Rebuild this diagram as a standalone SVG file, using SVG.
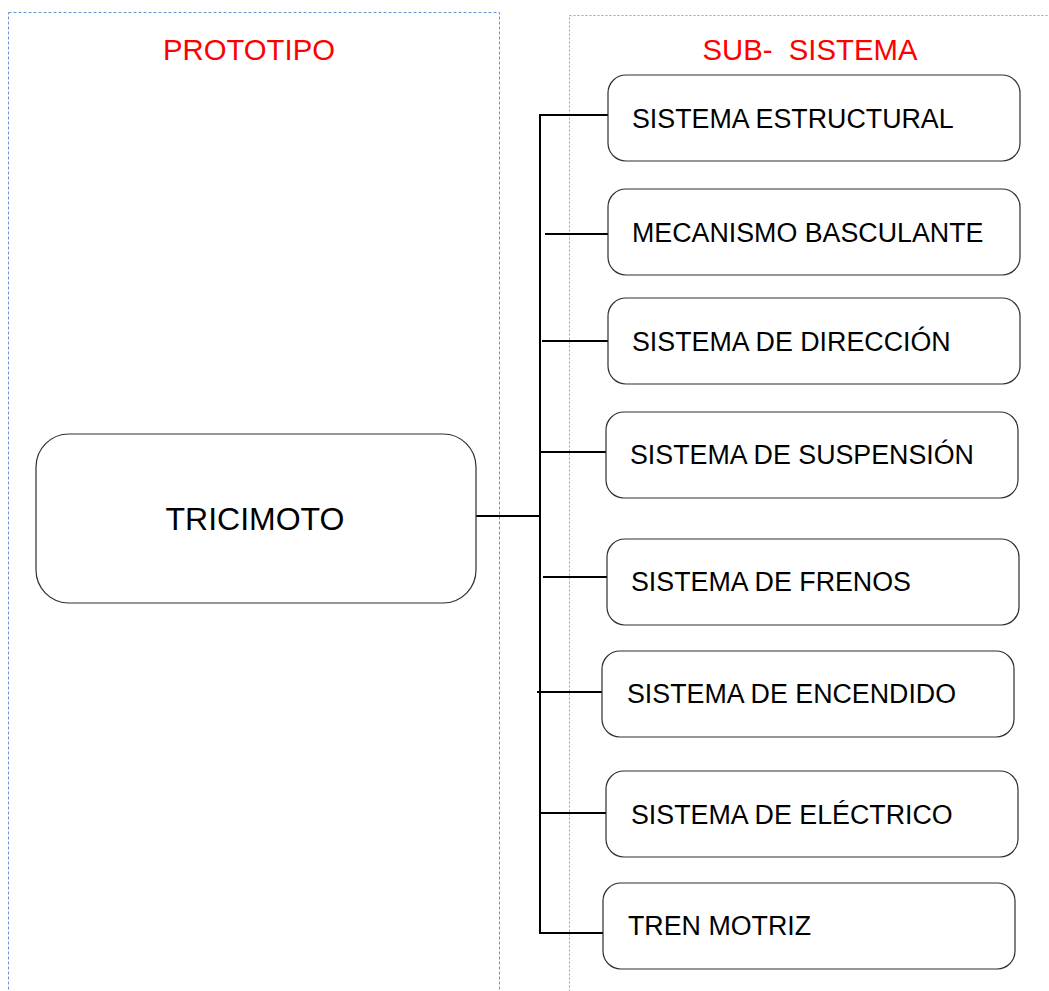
<svg xmlns="http://www.w3.org/2000/svg" width="1049" height="991" viewBox="0 0 1049 991">
<style>
.frame{fill:none;stroke:#6a96d0;stroke-width:1;stroke-dasharray:3 2}
.frame2{fill:none;stroke:#8aa6c8;stroke-width:1;stroke-dasharray:2 2}
.title{font-family:"Liberation Sans",Arial,sans-serif;font-size:29.3px;fill:#ff0000;text-anchor:middle}
.box{fill:#ffffff;stroke:#2e2e2e;stroke-width:1.2}
.lbl{font-family:"Liberation Sans",Arial,sans-serif;font-size:26.8px;fill:#000000}
.main{font-family:"Liberation Sans",Arial,sans-serif;font-size:32px;fill:#000000;text-anchor:middle}
.wire{fill:none;stroke:#000000;stroke-width:2}
</style>
<rect width="1049" height="991" fill="#ffffff"/>
<g id="frames">
<rect class="frame" x="8.5" y="12.5" width="491" height="1000"/>
<rect class="frame2" x="569.5" y="15.5" width="500" height="1000"/>
<text class="title" x="249" y="59.5">PROTOTIPO</text>
<text class="title" x="810" y="59.5" xml:space="preserve">SUB-  SISTEMA</text>
</g>
<g id="connectors">
<line class="wire" x1="540" y1="114" x2="540" y2="934"/>
<line class="wire" x1="476" y1="516" x2="540" y2="516"/>
<line class="wire" x1="541" y1="115" x2="608" y2="115"/>
<line class="wire" x1="545" y1="234" x2="608" y2="234"/>
<line class="wire" x1="542" y1="341" x2="608" y2="341"/>
<line class="wire" x1="540" y1="452" x2="606" y2="452"/>
<line class="wire" x1="543" y1="577" x2="607" y2="577"/>
<line class="wire" x1="537" y1="692" x2="602" y2="692"/>
<line class="wire" x1="541" y1="813" x2="606" y2="813"/>
<line class="wire" x1="539" y1="933" x2="603" y2="933"/>
</g>
<g id="tricimoto">
<rect class="box" x="36" y="434" width="440" height="169" rx="33" ry="33"/>
<text class="main" x="255" y="530">TRICIMOTO</text>
</g>
<g id="n1">
<rect class="box" x="608" y="75" width="412" height="86" rx="18" ry="18"/>
<text class="lbl" x="632" y="128">SISTEMA ESTRUCTURAL</text>
</g>
<g id="n2">
<rect class="box" x="608" y="189" width="412" height="86" rx="18" ry="18"/>
<text class="lbl" x="632" y="242">MECANISMO BASCULANTE</text>
</g>
<g id="n3">
<rect class="box" x="608" y="298" width="412" height="86" rx="18" ry="18"/>
<text class="lbl" x="632" y="351">SISTEMA DE DIRECCIÓN</text>
</g>
<g id="n4">
<rect class="box" x="606" y="412" width="412" height="86" rx="18" ry="18"/>
<text class="lbl" x="630" y="464">SISTEMA DE SUSPENSIÓN</text>
</g>
<g id="n5">
<rect class="box" x="607" y="539" width="412" height="86" rx="18" ry="18"/>
<text class="lbl" x="631" y="591">SISTEMA DE FRENOS</text>
</g>
<g id="n6">
<rect class="box" x="602" y="651" width="412" height="86" rx="18" ry="18"/>
<text class="lbl" x="627" y="703">SISTEMA DE ENCENDIDO</text>
</g>
<g id="n7">
<rect class="box" x="606" y="771" width="412" height="86" rx="18" ry="18"/>
<text class="lbl" x="631" y="824">SISTEMA DE ELÉCTRICO</text>
</g>
<g id="n8">
<rect class="box" x="603" y="883" width="412" height="86" rx="18" ry="18"/>
<text class="lbl" x="628" y="935">TREN MOTRIZ</text>
</g>
</svg>
